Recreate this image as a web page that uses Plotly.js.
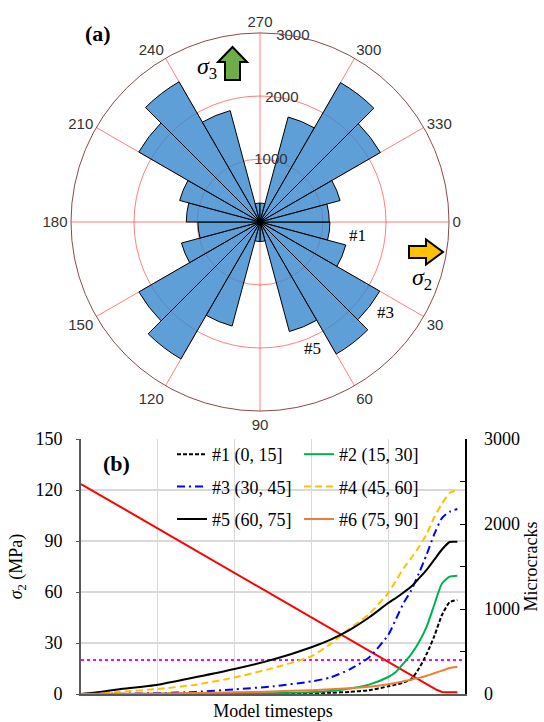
<!DOCTYPE html>
<html><head><meta charset="utf-8">
<script src="https://cdn.plot.ly/plotly-3.0.1.min.js"></script>
<style>html,body{margin:0;padding:0;background:#fff}#chart{width:544px;height:722px}</style>
</head><body><div id="chart"></div>
<script>
// ---------- (a) rose diagram ----------
const sectorCenters = [7.5,22.5,37.5,52.5,67.5,82.5,97.5,112.5,127.5,142.5,157.5,172.5,
                       187.5,202.5,217.5,232.5,247.5,262.5,277.5,292.5,307.5,322.5,337.5,352.5];
const sectorCounts  = [1110,1410,2195,2420,1800,310,310,1710,2510,2220,1290,985,
                       1170,1320,2222,2570,1830,300,300,1725,2555,2206,1316,1100];
const angularTicks = [0,30,60,90,120,150,180,210,240,270,300,330];
const radialTicks = [1000,2000,3000];
const radialLabelTheta = [280,280,280];

// ---------- (b) microcracks vs timesteps ----------
const timesteps = [0,0.25,0.5,1,1.5,2,2.5,3,3.25,3.5,3.75,4,4.1,4.2,4.3,4.4,4.5,4.6,4.7,4.8,4.9];
const cracks1 = [0,0,0,0,0,0,2,8,15,25,45,90,110,135,175,300,470,680,930,1080,1105];
const cracks2 = [0,0,0,2,4,6,10,20,35,65,110,200,260,360,470,610,790,1050,1300,1380,1391];
const cracks3 = [0,1,3,10,25,55,90,148,195,290,430,694,880,1070,1220,1420,1640,1880,2070,2144,2176];
const cracks4 = [0,10,25,59,110,195,305,445,590,770,940,1188,1330,1480,1600,1730,1880,2080,2240,2364,2400];
const cracks5 = [0,25,55,110,200,295,405,550,640,755,900,1070,1130,1195,1265,1360,1460,1580,1700,1788,1791];
const cracks6 = [0,2,3,6,12,20,30,45,55,68,86,115,130,150,170,190,215,245,275,305,320];
const seriesNames = ['#1 (0, 15]','#2 (15, 30]','#3 (30, 45]','#4 (45, 60]','#5 (60, 75]','#6 (75, 90]'];
const sigmaSteps = [0,4.55,4.63,4.7,4.76,4.9];
const sigma2 = [123.5,4.7,2.5,1.2,1.0,1.0];
const thresholdSteps = [0,5];
const threshold = [20,20];
const microTicks = [0,500,1000,1500,2000,2500,3000];
const microTickText = ['0',' ','1000',' ','2000',' ','3000'];

const W = 544, H = 722;
const px = v => v / W, py = v => 1 - v / H;
const serif = 'Liberation Serif';
const sans = 'Liberation Sans';
const grid = 'rgba(255,0,0,0.5)';

const data = [
  {type:'barpolar', r:sectorCounts, theta:sectorCenters, width:15, showlegend:false,
   marker:{color:'rgba(55,135,205,0.8)', line:{color:'#000', width:1}}, hoverinfo:'skip'},
  {type:'scatterpolar', mode:'text', r:radialTicks, theta:radialLabelTheta,
   text:radialTicks.map(String), textposition:'middle center', showlegend:false, cliponaxis:false,
   textfont:{family:sans, size:15, color:'#333'}, hoverinfo:'skip'}
];
const styles = [
  {color:'#000000', dash:'4px,2px', legend:'legend'},
  {color:'#00B050', dash:'solid', legend:'legend2'},
  {color:'#0000FF', dash:'8px,4px,2px,4px', legend:'legend'},
  {color:'#FFC000', dash:'7px,4px', legend:'legend2'},
  {color:'#000000', dash:'solid', legend:'legend'},
  {color:'#ED7D31', dash:'solid', legend:'legend2'}
];
const cracks = [cracks1,cracks2,cracks3,cracks4,cracks5,cracks6];
cracks.forEach((c,i) => data.push({
  type:'scatter', mode:'lines', x:timesteps, y:c, xaxis:'x', yaxis:'y2', name:seriesNames[i],
  legend:styles[i].legend, legendgroup:'g'+i,
  line:{color:styles[i].color, dash:styles[i].dash, width:2, shape:'spline', smoothing:0.6}
}));
data.push({type:'scatter', mode:'lines', x:sigmaSteps, y:sigma2, xaxis:'x', yaxis:'y', showlegend:false,
  line:{color:'#FF0000', width:2}});
data.push({type:'scatter', mode:'lines', x:thresholdSteps, y:threshold, xaxis:'x', yaxis:'y', showlegend:false,
  line:{color:'#FF00FF', width:2, dash:'dot'}});

const legendBase = {yanchor:'top', xanchor:'left', bgcolor:'rgba(0,0,0,0)', borderwidth:0,
  font:{family:serif, size:18, color:'#000'}, tracegroupgap:6, orientation:'v'};

const layout = {
  width:W, height:H, margin:{l:0,r:0,t:0,b:0}, paper_bgcolor:'#fff', plot_bgcolor:'#fff',
  showlegend:true,
  polar:{
    domain:{x:[px(71), px(449)], y:[py(411), py(33)]},
    bgcolor:'#fff',
    angularaxis:{direction:'clockwise', rotation:0, tickmode:'array', tickvals:angularTicks,
      ticktext:angularTicks.map(String), showgrid:true, gridcolor:grid, gridwidth:1,
      showline:true, linecolor:'#8B4A4A', linewidth:1, ticks:'',
      tickfont:{family:sans, size:15, color:'#333'}},
    radialaxis:{range:[0,3000], tickvals:radialTicks, showticklabels:false, showline:false, ticks:'',
      angle:80, gridcolor:grid, gridwidth:1}
  },
  xaxis:{domain:[px(81), px(465)], anchor:'y', range:[0,5], dtick:1, showticklabels:false, ticks:'',
    showgrid:true, gridcolor:'#D9D9D9', gridwidth:1, zeroline:false, showline:true, linecolor:'#595959', linewidth:2,
    title:{text:'Model timesteps', font:{family:serif, size:18, color:'#000'}, standoff:9}},
  yaxis:{domain:[py(694), py(439)], anchor:'x', range:[0,150], dtick:30, showgrid:true, gridcolor:'#D9D9D9', gridwidth:1.5,
    zeroline:false, showline:true, linecolor:'#595959', linewidth:2, ticks:'outside', ticklen:3, tickcolor:'#595959',
    ticklabelstandoff:10, tickfont:{family:serif, size:18, color:'#000'},
    title:{text:'<i>σ</i><sub>2</sub> (MPa)', font:{family:serif, size:18, color:'#000'}, standoff:8}},
  yaxis2:{overlaying:'y', side:'right', anchor:'x', range:[0,3000], tickmode:'array', tickvals:microTicks, ticktext:microTickText,
    showgrid:false, zeroline:false, showline:true, linecolor:'#000', linewidth:1.5, ticks:'inside', ticklen:5, tickcolor:'#000',
    ticklabelstandoff:14, tickfont:{family:serif, size:18, color:'#000'},
    title:{text:'Microcracks', font:{family:serif, size:18, color:'#000'}, standoff:5}},
  legend:Object.assign({x:px(172), y:py(436)}, legendBase),
  legend2:Object.assign({x:px(299), y:py(436)}, legendBase),
  annotations:[
    {text:'<b>(a)</b>', x:px(98), y:py(33), xref:'paper', yref:'paper', xanchor:'center', yanchor:'middle', showarrow:false, font:{family:serif, size:22, color:'#000'}},
    {text:'<b>(b)</b>', x:px(116), y:py(463), xref:'paper', yref:'paper', xanchor:'center', yanchor:'middle', showarrow:false, font:{family:serif, size:22, color:'#000'}},
    {text:'<i>σ</i><sub>3</sub>', x:px(207), y:py(68), xref:'paper', yref:'paper', xanchor:'center', yanchor:'middle', showarrow:false, font:{family:serif, size:24, color:'#000'}},
    {text:'<i>σ</i><sub>2</sub>', x:px(422), y:py(279), xref:'paper', yref:'paper', xanchor:'center', yanchor:'middle', showarrow:false, font:{family:serif, size:24, color:'#000'}},
    {text:'#1', x:px(357), y:py(235), xref:'paper', yref:'paper', xanchor:'center', yanchor:'middle', showarrow:false, font:{family:serif, size:17, color:'#000'}},
    {text:'#3', x:px(385), y:py(312), xref:'paper', yref:'paper', xanchor:'center', yanchor:'middle', showarrow:false, font:{family:serif, size:17, color:'#000'}},
    {text:'#5', x:px(312), y:py(348), xref:'paper', yref:'paper', xanchor:'center', yanchor:'middle', showarrow:false, font:{family:serif, size:17, color:'#000'}}
  ],
  shapes:[
    {type:'path', xref:'paper', yref:'paper', xsizemode:'pixel', ysizemode:'pixel', xanchor:px(232.5), yanchor:py(80),
     path:'M-7.5,0 L7.5,0 L7.5,18 L14.5,18 L0,33 L-14.5,18 L-7.5,18 Z', fillcolor:'#70AD47', line:{color:'#000', width:2}},
    {type:'path', xref:'paper', yref:'paper', xsizemode:'pixel', ysizemode:'pixel', xanchor:px(409), yanchor:py(252),
     path:'M0,-6 L17,-6 L17,-12.5 L34,0 L17,12.5 L17,6 L0,6 Z', fillcolor:'#FFC000', line:{color:'#000', width:2}}
  ]
};
Plotly.newPlot('chart', data, layout, {displayModeBar:false, staticPlot:true});
</script></body></html>
